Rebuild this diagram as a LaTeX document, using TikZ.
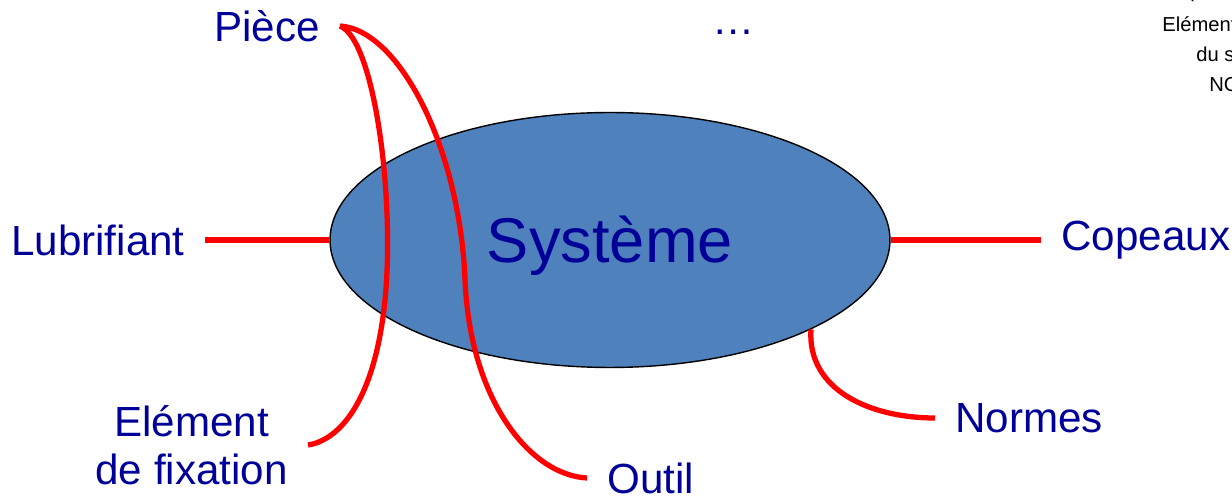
\documentclass[tikz,border=0pt]{standalone}
\usepackage{fontspec}
\setmainfont{Liberation Sans}
\usetikzlibrary{shapes.geometric}
\definecolor{txtblue}{RGB}{0,0,153}
\definecolor{sysblue}{RGB}{79,129,189}
\definecolor{linkred}{RGB}{255,0,0}
\tikzset{
  label/.style={text=txtblue, font=\fontsize{24}{27}\selectfont, inner xsep=0.4cm, inner ysep=0pt},
  link/.style={draw=linkred, line width=3pt},
  sysbox/.style={ellipse, draw=black, line width=0.8pt, fill=sysblue, minimum width=11.2cm, minimum height=5.1cm, inner sep=0pt},
  systext/.style={text=txtblue, font=\fontsize{36}{40}\selectfont, inner sep=0pt},
  note/.style={font=\fontsize{11.5}{13}\selectfont, anchor=base west, inner sep=0pt}
}

\begin{document}
\begin{tikzpicture}[x=0.02cm, y=-0.02cm]

    % Cadre
    \useasboundingbox (0,0) rectangle (1232,499);
    \clip (0,0) rectangle (1232,499);

    % Systeme central
    \node[sysbox] (sys) at (610,240) {};
    \node[systext] (systxt) at (610,246) {Syst\`eme};

    % Elements autour
    \node[label, anchor=east] (lub) at (205,240) {Lubrifiant};
    \node[label, anchor=west] (cop) at (1041,240) {Copeaux};
    \node[label, anchor=east] (piece) at (340,26) {Pi\`ece};
    \node[label] (dots) at (734,32) {\dots};
    \node[label, anchor=east, align=center] (elem) at (308,445) {El\'ement\\de fixation};
    \node[label, anchor=west] (outil) at (587,478) {Outil};
    \node[label, anchor=west] (normes) at (935,418) {Normes};

    % Texte coupe en haut a droite
    \node[note] (n0) at (1187,-2) {(};
    \node[note] (n1) at (1162,32) {El\'ements};
    \node[note] (n2) at (1196,62) {du s};
    \node[note] (n3) at (1209,92) {NC};

    % Liaisons
    \draw[link] (lub.east) -- (sys.west);
    \draw[link] (sys.east) -- (cop.west);
    \draw[link] (sys.-24.6) .. controls (807,390) and (870,418) .. (normes.west);
    \draw[link] (piece.east) .. controls (375,40) and (395,200) .. (385,300)
        .. controls (375,400) and (340,440) .. (elem.east);
    \draw[link] (piece.east) .. controls (400,30) and (460,150) .. (465,280)
        .. controls (470,400) and (530,475) .. (outil.west);

\end{tikzpicture}
\end{document}
